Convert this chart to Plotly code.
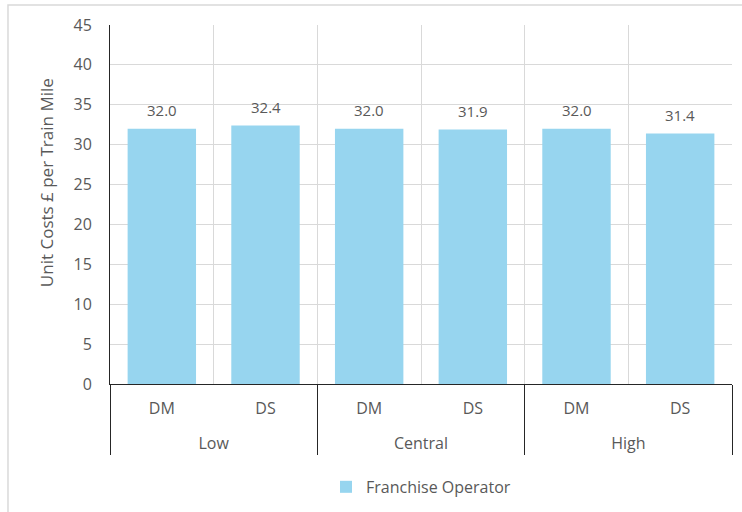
import plotly.graph_objects as go

scenarios = ["Low", "Low", "Central", "Central", "High", "High"]
options = ["DM", "DS", "DM", "DS", "DM", "DS"]
values = [32.0, 32.4, 32.0, 31.9, 32.0, 31.4]
series_name = "Franchise Operator"
y_title = "Unit Costs £ per Train Mile"

font_family = "Open Sans, Noto Sans, sans-serif"
txt = "#595959"

# push the scenario (outer level) labels down one line, Excel-style
outer = ["<br>" + s for s in scenarios]

fig = go.Figure()
fig.add_trace(go.Bar(
    x=[outer, options],
    y=values,
    name=series_name,
    marker=dict(color="#97D5EF", line=dict(width=0)),
    showlegend=True,
))

annotations = []
for s, o, v in zip(outer, options, values):
    annotations.append(dict(
        x=[s, o], y=v, xref="x", yref="y", text=f"{v:.1f}", showarrow=False,
        yanchor="bottom", yshift=7, font=dict(size=15, color=txt, family=font_family),
    ))
annotations.append(dict(
    x=-0.101, y=0.56, xref="paper", yref="paper", text=y_title, textangle=-90,
    showarrow=False, xanchor="center", yanchor="middle",
    font=dict(size=17, color=txt, family=font_family),
))

fig.update_layout(
    width=742, height=512,
    margin=dict(l=110, r=10, t=25, b=128, autoexpand=False),
    paper_bgcolor="white", plot_bgcolor="white",
    font=dict(family=font_family, color=txt),
    bargap=0.34,
    showlegend=True,
    legend=dict(orientation="h", x=0.5, xanchor="center", yref="container", y=0.049, yanchor="middle",
                font=dict(size=16, color=txt), itemwidth=30),
    annotations=annotations,
    xaxis=dict(
        type="multicategory",
        tickson="boundaries",
        automargin=False,
        showgrid=True, gridcolor="#D9D9D9", gridwidth=1,
        showline=True, linecolor="#262626", linewidth=1,
        showdividers=True, dividercolor="#262626", dividerwidth=1,
        ticks="", tickfont=dict(size=16, color=txt),
        ticklabelstandoff=10,
    ),
    yaxis=dict(
        range=[0, 45], dtick=5,
        automargin=False,
        showgrid=True, gridcolor="#D9D9D9", gridwidth=1,
        showline=True, linecolor="#262626", linewidth=1,
        zeroline=False,
        ticks="", ticklabelstandoff=14,
        tickfont=dict(size=16, color=txt),
    ),
    shapes=[
        dict(type="rect", xref="paper", yref="paper", x0=-0.164, x1=1.03, y0=-0.4, y1=1.056,
             line=dict(color="#D9D9D9", width=1.5), fillcolor="rgba(0,0,0,0)"),
    ],
)

fig.write_html("out.html")
